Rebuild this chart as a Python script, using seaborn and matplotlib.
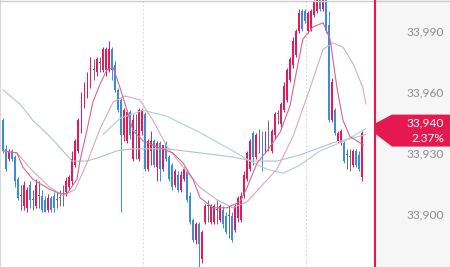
import matplotlib
matplotlib.use("Agg")
import numpy as np
import pandas as pd
import matplotlib.pyplot as plt
import seaborn as sns
from matplotlib.patches import Polygon
from matplotlib.lines import Line2D

# ---------------- data ----------------
open_ = [33946, 33932, 33927, 33931, 33928, 33917, 33909, 33904, 33903, 33914,
         33907, 33904, 33909, 33909, 33907, 33902, 33908, 33909, 33907, 33908,
         33909, 33911, 33913, 33916, 33924, 33931, 33941, 33954, 33958, 33963,
         33971, 33970, 33974, 33971, 33971, 33971, 33981, 33973, 33961, 33956,
         33939, 33936, 33950, 33927, 33941, 33927, 33941, 33949, 33922, 33931,
         33936, 33923, 33935, 33922, 33935, 33928, 33924, 33914, 33919, 33912,
         33917, 33921, 33909, 33897, 33887, 33895, 33878, 33896, 33904, 33896,
         33896, 33902, 33897, 33902, 33899, 33899, 33899, 33892, 33898, 33897,
         33909, 33917, 33922, 33940, 33928, 33939, 33940, 33931, 33939, 33931,
         33939, 33949, 33944, 33951, 33956, 33966, 33973, 33978, 33990, 34000,
         34000, 33990, 33991, 33998, 34000, 34005, 34001, 34005, 33993, 33946,
         33951, 33936, 33935, 33935, 33929, 33928, 33924, 33931, 33929, 33918]
high = [33947, 33934, 33932, 33932, 33929, 33918, 33914, 33916, 33913, 33916,
        33912, 33917, 33916, 33912, 33909, 33910, 33909, 33911, 33911, 33912,
        33914, 33918, 33919, 33931, 33937, 33947, 33960, 33965, 33970, 33977,
        33976, 33977, 33977, 33982, 33982, 33985, 33982, 33975, 33962, 33957,
        33952, 33951, 33951, 33949, 33949, 33952, 33952, 33950, 33937, 33941,
        33937, 33936, 33936, 33934, 33936, 33929, 33925, 33922, 33921, 33921,
        33923, 33922, 33911, 33898, 33896, 33896, 33892, 33905, 33907, 33905,
        33905, 33907, 33905, 33904, 33901, 33904, 33901, 33905, 33909, 33911,
        33921, 33931, 33937, 33941, 33940, 33942, 33941, 33941, 33946, 33942,
        33950, 33951, 33955, 33965, 33972, 33977, 33987, 33991, 34001, 34001,
        34001, 34000, 34001, 34005, 34005, 34005, 34005, 34005, 34000, 33967,
        33952, 33941, 33942, 33936, 33932, 33932, 33932, 33932, 33931, 33941]
low = [33930, 33921, 33926, 33926, 33913, 33907, 33902, 33902, 33901, 33903,
       33902, 33903, 33903, 33901, 33901, 33901, 33901, 33901, 33903, 33904,
       33904, 33909, 33912, 33914, 33923, 33930, 33940, 33952, 33957, 33962,
       33966, 33968, 33970, 33970, 33968, 33970, 33966, 33960, 33950, 33901,
       33936, 33935, 33937, 33926, 33927, 33926, 33939, 33921, 33921, 33924,
       33923, 33916, 33916, 33921, 33926, 33916, 33912, 33913, 33911, 33911,
       33916, 33906, 33895, 33886, 33885, 33874, 33876, 33895, 33896, 33895,
       33895, 33895, 33896, 33893, 33890, 33888, 33886, 33891, 33896, 33896,
       33908, 33916, 33921, 33924, 33927, 33930, 33921, 33930, 33931, 33930,
       33937, 33944, 33942, 33950, 33955, 33965, 33972, 33977, 33989, 33990,
       33994, 33989, 33990, 33997, 33999, 34000, 34000, 33989, 33945, 33945,
       33939, 33935, 33934, 33925, 33922, 33921, 33923, 33923, 33921, 33916]
close = [33931, 33922, 33931, 33927, 33916, 33908, 33909, 33914, 33912, 33907,
         33907, 33914, 33909, 33902, 33901, 33908, 33902, 33903, 33907, 33908,
         33909, 33916, 33918, 33927, 33936, 33946, 33958, 33963, 33968, 33976,
         33971, 33976, 33974, 33981, 33981, 33981, 33971, 33961, 33951, 33939,
         33951, 33950, 33939, 33946, 33941, 33951, 33951, 33922, 33936, 33936,
         33924, 33935, 33922, 33934, 33927, 33917, 33913, 33921, 33912, 33919,
         33922, 33907, 33896, 33887, 33895, 33885, 33891, 33904, 33904, 33904,
         33904, 33902, 33904, 33895, 33891, 33899, 33887, 33904, 33908, 33909,
         33919, 33930, 33936, 33928, 33939, 33939, 33931, 33940, 33939, 33941,
         33949, 33949, 33954, 33963, 33971, 33976, 33985, 33990, 33999, 33991,
         33995, 33999, 34000, 34004, 34005, 34001, 34005, 33990, 33946, 33965,
         33940, 33940, 33941, 33926, 33929, 33928, 33931, 33924, 33922, 33940]

# moving-average style lines: (candle index, price)
ma_fast_x = [0, 4.6, 6.6, 9.9, 15.6, 18.9, 21.2, 24.5, 25.5, 27.8, 29.8, 32.2, 34.5,
             36.5, 38.8, 41.1, 43.1, 46.4, 51.0, 56.3, 59.7, 63.0, 65.3, 69.6, 74.2,
             78.6, 80.9, 84.2, 87.5, 91.8, 95.1, 97.4, 99.4, 102.8, 106.1, 108.4,
             110.7, 112.7, 115.0, 118.3, 119.5]
ma_fast_y = [33931, 33930, 33923, 33917, 33912, 33910, 33910, 33917, 33926, 33941,
             33955, 33964, 33971, 33972, 33962, 33951, 33941, 33936, 33933, 33930,
             33925, 33917, 33908, 33903, 33903, 33906, 33913, 33925, 33931, 33940,
             33953, 33971, 33986, 33992, 33994, 33986, 33962, 33946, 33938, 33935,
             33934]
ma_mid_x = [0, 4.6, 9.9, 15.6, 19.9, 23.9, 27.8, 32.2, 36.5, 40.4, 43.1, 45.4, 49.7,
            54.4, 59.7, 65.3, 70.9, 76.2, 80.9, 85.2, 90.8, 96.1, 101.8, 106.1,
            109.4, 112.7, 116.0, 119.3, 120.3]
ma_mid_y = [33931, 33930, 33921, 33913, 33909, 33912, 33925, 33942, 33955, 33958,
            33957, 33956, 33946, 33933, 33923, 33913, 33907, 33903, 33906, 33913,
            33922, 33938, 33962, 33981, 33984, 33982, 33974, 33962, 33954]
ma_slow_x = [0, 5.6, 9.9, 15.6, 22.9, 27.8, 32.2, 37.8, 43.1, 54.4, 65.3, 76.2,
             82.9, 90.8, 98.4, 109.4, 115.0, 120.3]
ma_slow_y = [33961, 33954, 33946, 33938, 33926, 33926, 33928, 33931, 33932, 33932,
             33930, 33928, 33926, 33926, 33929, 33935, 33937, 33939]
ma_long_x = [33.1, 38.8, 46.4, 54.4, 65.3, 76.2, 81.9, 87.5, 92.8, 98.4, 105.1,
             113.4, 120.3]
ma_long_y = [33939, 33947, 33951, 33948, 33940, 33931, 33926, 33922, 33920, 33924,
             33931, 33936, 33942]

session_breaks = [46.5, 100.5]
ytick_values = [33900, 33930, 33960, 33990]
ytick_labels = ["33,900", "33,930", "33,960", "33,990"]
last_price_label = "33,940"
change_label = "2.37%"

# ---------------- style ----------------
sns.set_theme(style="white")
plt.rcParams["font.family"] = ["Lato", "DejaVu Sans"]

RED = "#e3195c"
BLUE = "#3a8ddb"
GRAY = "#6b6b6b"

W, H = 450, 267
fig = plt.figure(figsize=(W / 100, H / 100), dpi=100)
fig.patch.set_facecolor("white")

panel = fig.add_axes([375 / W, 0, 75 / W, 1])
panel.set_facecolor("#f6f6f6")
panel.set_xticks([]); panel.set_yticks([])
for s in panel.spines.values():
    s.set_visible(False)
panel.set_zorder(0)

ax = fig.add_axes([0, 0, 374 / W, 1])
ax.set_zorder(1)
ax.set_facecolor("white")

o = np.array(open_, float); h = np.array(high, float)
l = np.array(low, float); c = np.array(close, float)
idx = np.arange(len(c))

cols = []
for oo, cc in zip(o, c):
    if abs(cc - oo) < 0.6:
        cols.append(GRAY)
    elif cc > oo:
        cols.append(RED)
    else:
        cols.append(BLUE)

for xpos in session_breaks:
    ax.axvline(xpos, color="#d8d8d8", lw=0.8, ls=(0, (1.5, 2)), zorder=1)

ax.vlines(idx, l, h, colors=cols, lw=0.7, zorder=3)
body = np.maximum(np.abs(c - o), 0.5)
ax.bar(idx, body, bottom=np.minimum(o, c), width=0.62, color=cols,
       linewidth=0, zorder=3)

line_specs = [
    (ma_slow_x, ma_slow_y, "#b3c3d0"),
    (ma_long_x, ma_long_y, "#a9d4cd"),
    (ma_mid_x, ma_mid_y, "#d9a8c2"),
    (ma_fast_x, ma_fast_y, "#d8668f"),
]
for xs, ys, col in line_specs:
    df = pd.DataFrame({"x": xs, "y": ys})
    sns.lineplot(data=df, x="x", y="y", ax=ax, color=col, lw=0.8,
                 estimator=None, sort=False, legend=False, zorder=4)

ax.set_xlim(-0.994, 122.97)
ax.set_ylim(33873.9, 34005.2)
ax.set_xticks([])
ax.set_xlabel(""); ax.set_ylabel("")
ax.yaxis.tick_right()
ax.set_yticks(ytick_values)
ax.set_yticklabels(ytick_labels)
ax.tick_params(axis="y", length=0, pad=50.4, labelsize=8.6, labelcolor="#8c8c8c")
for lbl in ax.get_yticklabels():
    lbl.set_horizontalalignment("right")
for side in ["right", "bottom", "top"]:
    ax.spines[side].set_visible(False)
ax.spines["left"].set_visible(True)
ax.spines["left"].set_color("#cfcfcf")
ax.spines["left"].set_linewidth(1.2)

# top border across figure
fig.add_artist(Line2D([0, 1], [1 - 0.6 / H, 1 - 0.6 / H], transform=fig.transFigure,
                      color="#cccccc", lw=1.0, zorder=6))
# red vertical marker line
fig.add_artist(Line2D([374.5 / W, 374.5 / W], [0, 1], transform=fig.transFigure,
                      color="#e5194f", lw=1.5, zorder=7))

# price tag at last close
yc = ax.transData.transform((0, c[-1]))[1]  # display pixels, origin bottom
pts = [(375, yc + 9), (392, yc + 18), (450, yc + 18), (450, yc - 14),
       (392, yc - 14), (375, yc - 1)]
pts_fig = [(px / W, py / H) for px, py in pts]
fig.add_artist(Polygon(pts_fig, closed=True, transform=fig.transFigure,
                       facecolor="#e5194f", edgecolor="none", zorder=8))
fig.text(444 / W, (yc + 10) / H, last_price_label, color="white", fontsize=8.6,
         ha="right", va="center", zorder=9)
fig.text(444 / W, (yc - 6) / H, change_label, color="white", fontsize=8.6,
         ha="right", va="center", zorder=9)

fig.savefig("out.png", dpi=100)
